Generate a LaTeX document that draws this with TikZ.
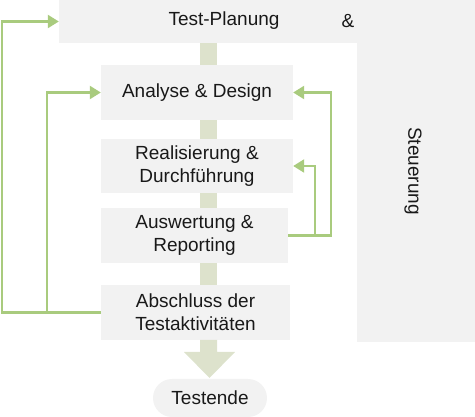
\documentclass[tikz,border=0pt]{standalone}
\usepackage{fontspec}
\setmainfont{Liberation Sans}
\usetikzlibrary{arrows.meta}
\definecolor{boxgray}{HTML}{F2F2F2}
\definecolor{bargreen}{HTML}{DDE2CC}
\definecolor{linegreen}{HTML}{A9CB7E}
\begin{document}
\begin{tikzpicture}[x=1pt,y=-1pt,
  every node/.style={font=\fontsize{19}{23}\selectfont, text=black!90, align=center, inner sep=0pt},
  panel/.style={fill=boxgray, draw=none},
  stage/.style={panel, minimum width=#1, minimum height=55pt},
  bar/.style={draw=bargreen, line width=17pt},
  fb/.style={draw=linegreen, line width=2.3pt, -{Triangle[length=11pt,width=13pt]}},
]
\useasboundingbox (0,0) rectangle (475,417);
% background panels (L-shape)
\node[panel, minimum width=298pt, minimum height=43pt] (plan) at (208,21.5) {};
\node[panel, minimum width=118pt, minimum height=342pt] (steu) at (416,171) {};
\node (plantxt) at (224,21) {Test-Planung};
\node (amp) at (348,21) {\&};
\node[rotate=-90] (steutxt) at (413,171) {Steuerung};
% stages
\node[stage=192pt] (ana) at (197,92.5) {Analyse \& Design};
\node[stage=192pt, minimum height=54pt] (real) at (197,166) {Realisierung \&\\Durchführung};
\node[stage=187pt] (ausw) at (194.5,235.5) {Auswertung \&\\Reporting};
\node[stage=189pt] (absch) at (195.5,312.5) {Abschluss der\\Testaktivitäten};
\node[fill=boxgray, rounded corners=19pt, minimum width=114pt, minimum height=38pt] (ende) at (210,398) {Testende};
% spine bars
\coordinate (sx) at (208.5,0);
\draw[bar] (sx |- plan.south) -- (sx |- ana.north);
\draw[bar] (sx |- ana.south) -- (sx |- real.north);
\draw[bar] (sx |- real.south) -- (sx |- ausw.north);
\draw[bar] (sx |- ausw.south) -- (sx |- absch.north);
% down arrow
\fill[bargreen] (200,340) -- (200,352) -- (184,352) -- (209.5,378) -- (235,352) -- (217,352) -- (217,340) -- cycle;
% feedback lines
\coordinate (jl) at (47,312.5);
\coordinate (jr) at (315,235.5);
\draw[fb] (absch.west) -- (2,312.5) |- (plan.west);
\draw[fb] (jl) |- (ana.west);
\draw[fb] (ausw.east) -- (331,235.5) |- (ana.east);
\draw[fb] (jr) |- (real.east);
\end{tikzpicture}
\end{document}
